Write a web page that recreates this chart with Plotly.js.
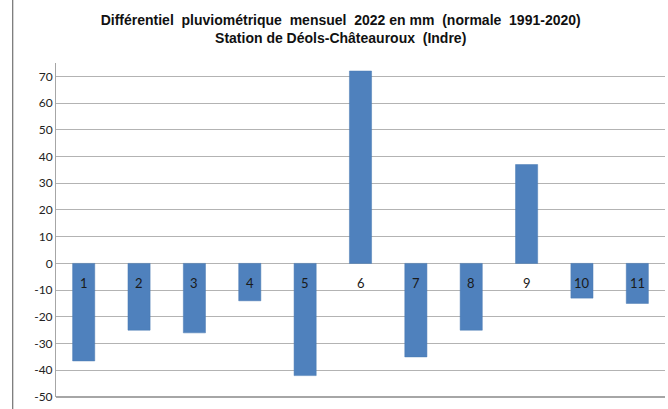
<!DOCTYPE html>
<html><head><meta charset="utf-8">
<script src="https://cdn.plot.ly/plotly-3.0.1.min.js"></script>
<style>html,body{margin:0;padding:0;background:#fff}#c{width:668px;height:409px}</style>
</head><body><div id="c"></div>
<script>
const months = ["1","2","3","4","5","6","7","8","9","10","11"];
const diffMm = [-36.5, -25, -26, -14, -42, 72, -35, -25, 37, -13, -15];
const yTicks = [70,60,50,40,30,20,10,0,-10,-20,-30,-40,-50];

const annotations = months.map((m, i) => ({
  x: i, y: 0, xref: 'x', yref: 'y', text: m, showarrow: false,
  yanchor: 'top', yshift: -10,
  font: {family: 'Lato, Liberation Sans, sans-serif', size: 13, color: '#1a1a1a'}
}));

Plotly.newPlot('c', [{
  type: 'bar', x: months, y: diffMm, width: 0.4,
  marker: {color: '#4f81bd', line: {color: '#4a7ab3', width: 0.5}},
  hoverinfo: 'none'
}], {
  width: 668, height: 409,
  margin: {l: 56, r: 3, t: 63, b: 12},
  paper_bgcolor: '#fff', plot_bgcolor: '#fff',
  showlegend: false,
  title: {
    text: 'Différentiel  pluviométrique  mensuel  2022 en mm  (normale  1991-2020)<br>Station de Déols-Châteauroux  (Indre)',
    font: {family: 'Liberation Sans, Arial, sans-serif', size: 14, color: '#111', weight: 'bold'},
    x: 0.51, xanchor: 'center', y: 0.94, yanchor: 'middle'
  },
  xaxis: {type: 'category', showticklabels: false, showgrid: false, zeroline: false,
          showline: false, ticks: ''},
  yaxis: {range: [-50, 75], tickvals: yTicks, ticktext: yTicks.map(String),
          showgrid: true, gridcolor: '#b3b3b3', gridwidth: 1,
          zeroline: true, zerolinecolor: '#b3b3b3', zerolinewidth: 1,
          showline: true, linecolor: '#a6a6a6', linewidth: 1,
          ticks: '', ticklen: 0, tickfont: {family: 'Lato, Liberation Sans, sans-serif', size: 12, color: '#222'}},
  annotations: annotations,
  shapes: [
    {type: 'line', xref: 'paper', yref: 'paper', x0: 0, x1: 1, y0: 0, y1: 0, line: {color: '#a6a6a6', width: 2}},
    {type: 'line', xref: 'paper', yref: 'paper', x0: -0.071, x1: -0.071, y0: -0.04, y1: 1.2, line: {color: '#555', width: 1}}
  ]
}, {staticPlot: true});
</script></body></html>
